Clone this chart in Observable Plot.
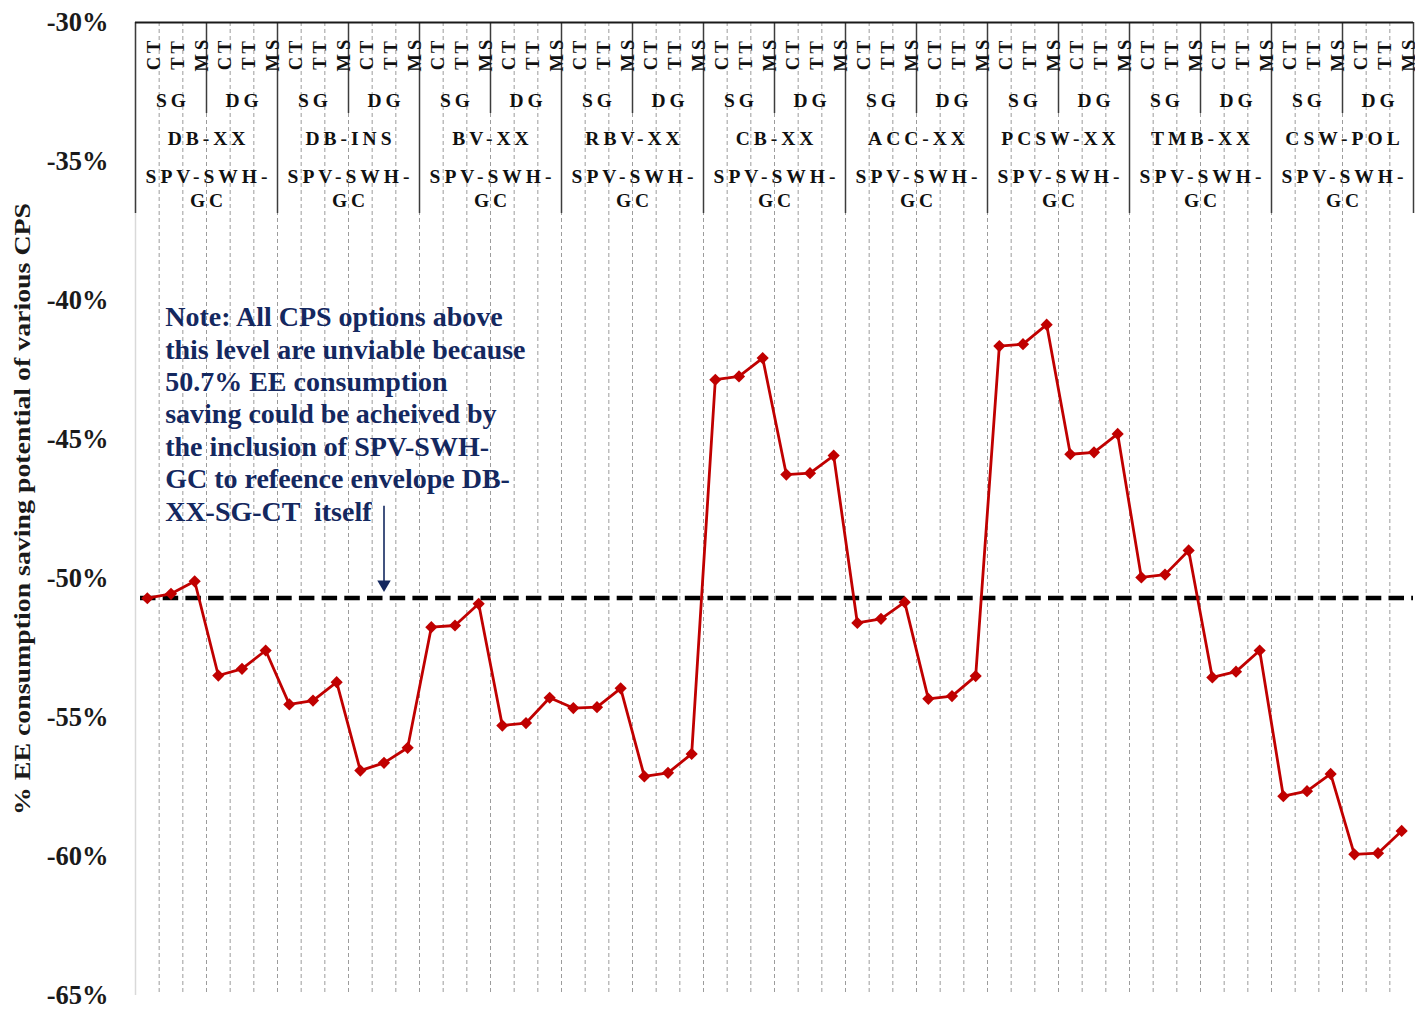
<!DOCTYPE html>
<html>
<head>
<meta charset="utf-8">
<script src="https://cdn.jsdelivr.net/npm/d3@7"></script>
<script src="https://cdn.jsdelivr.net/npm/@observablehq/plot@0.6"></script>
<style>
  html, body { margin: 0; padding: 0; background: #fff; }
  #chart svg { display: block; }
</style>
</head>
<body>
<div id="chart"></div>
<script>
// ---- data ----
const glazingTypes = ["CT", "TT", "MS"];
const windowTypes = ["SG", "DG"];
const envelopes = ["DB-XX", "DB-INS", "BV-XX", "RBV-XX", "CB-XX", "ACC-XX", "PCSW-XX", "TMB-XX", "CSW-POL"];
const systemLabel = "SPV-SWH-GC";
// % EE consumption saving, in order envelope > window > glazing
const savings = [
  -50.71, -50.55, -50.10, -53.49, -53.25, -52.59,   // DB-XX
  -54.53, -54.39, -53.73, -56.91, -56.63, -56.09,   // DB-INS
  -51.75, -51.69, -50.91, -55.29, -55.20, -54.29,   // BV-XX
  -54.66, -54.63, -53.95, -57.12, -56.99, -56.31,   // RBV-XX
  -42.85, -42.73, -42.07, -46.26, -46.21, -45.58,   // CB-XX
  -51.60, -51.45, -50.85, -54.33, -54.23, -53.51,   // ACC-XX
  -41.64, -41.57, -40.87, -45.53, -45.46, -44.80,   // PCSW-XX
  -49.96, -49.86, -48.99, -53.56, -53.35, -52.59,   // TMB-XX
  -57.83, -57.65, -57.03, -59.92, -59.88, -59.08    // CSW-POL
];
const referenceSaving = -50.7;
const yTicks = [-30, -35, -40, -45, -50, -55, -60, -65];
const yTitle = "% EE consumption saving potential of various CPS";
const noteLines = [
  "Note: All CPS options above",
  "this level are unviable because",
  "50.7% EE consumption",
  "saving could be acheived by",
  "the inclusion of SPV-SWH-",
  "GC to refeence envelope DB-",
  "XX-SG-CT  itself"
];
const noteCategory = 10; // category the arrow points at

// ---- derived tables ----
const rows = [];
envelopes.forEach((env, e) => windowTypes.forEach((win, w) => glazingTypes.forEach((glz, g) => {
  const i = e * 6 + w * 3 + g;
  rows.push({i, env, win, glz, saving: savings[i]});
})));
const winRows = envelopes.flatMap((env, e) => windowTypes.map((win, w) => ({pos: e * 6 + w * 3 + 1.5, label: win})));
const envRows = envelopes.map((env, e) => ({pos: e * 6 + 3, label: env}));
const nCat = rows.length;

const serif = "'Liberation Serif', 'Times New Roman', serif";
const navy = "#14285f";
const red = "#C00000";

const triangleDown = {
  draw(ctx, size) {
    const s = Math.sqrt(size * 4 / Math.sqrt(3));
    const h = s * Math.sqrt(3) / 2;
    ctx.moveTo(-s / 2, -h);
    ctx.lineTo(s / 2, -h);
    ctx.lineTo(0, 0);
    ctx.closePath();
  }
};

const chart = Plot.plot({
  width: 1415,
  height: 1012,
  marginLeft: 135,
  marginRight: 2,
  marginTop: 22,
  marginBottom: 17,
  style: {fontFamily: serif, background: "#fff", overflow: "visible"},
  x: {type: "linear", domain: [0, nCat], axis: null},
  y: {domain: [-65, -30], axis: null},
  marks: [
    // category gridlines
    Plot.ruleX(d3.range(1, nCat), {stroke: "#9c9c9c", strokeWidth: 1, strokeDasharray: "4,3"}),
    Plot.ruleX([0], {stroke: "#d9d9d9", strokeWidth: 1.5}),
    // header table borders
    Plot.ruleX(d3.range(3, nCat, 6), {insetBottom: 882, stroke: "#3c3c3c", strokeWidth: 1.5}),
    Plot.ruleX(d3.range(0, nCat + 1, 6), {insetBottom: 782, stroke: "#3c3c3c", strokeWidth: 1.5}),
    Plot.ruleY([-30], {stroke: "#1a1a1a", strokeWidth: 2}),
    // reference line
    Plot.ruleY([referenceSaving], {insetLeft: 5, stroke: "#000", strokeWidth: 4.5, strokeDasharray: "15.5,7.2"}),
    // series
    Plot.line(rows, {x: d => d.i + 0.5, y: "saving", stroke: red, strokeWidth: 2.8}),
    Plot.dot(rows, {x: d => d.i + 0.5, y: "saving", symbol: "diamond2", r: 5.5, fill: red, stroke: "none"}),
    // y axis
    Plot.axisY(yTicks, {tickSize: 0, tickPadding: 27, tickFormat: d => `${d}%`, fontSize: 26.5, fontWeight: "bold", color: "#1a1a1a", label: null}),
    Plot.text([yTitle], {text: d => d, frameAnchor: "left", dx: -113, rotate: -90, fontSize: 24, fontWeight: "bold", fill: "#1a1a1a", ariaDescription: "ytitle"}),
    // header labels
    Plot.text(rows, {x: d => d.i + 0.5, text: "glz", frameAnchor: "top", dy: 31, rotate: -90, fontSize: 18.5, fontWeight: "bold", fill: "#111", ariaDescription: "hdr-glz"}),
    Plot.text(winRows, {x: "pos", text: "label", frameAnchor: "top", dy: 71, dx: 2, fontSize: 19.5, fontWeight: "bold", fill: "#111", ariaDescription: "hdr"}),
    Plot.text(envRows, {x: "pos", text: "label", frameAnchor: "top", dy: 109, dx: 2, fontSize: 19.5, fontWeight: "bold", fill: "#111", ariaDescription: "hdr"}),
    Plot.text(envRows, {x: "pos", text: () => systemLabel.replace("SWH-", "SWH-\n"), frameAnchor: "top", dy: 143, dx: 2, lineHeight: 1.23, fontSize: 19.5, fontWeight: "bold", fill: "#111", ariaDescription: "hdr"}),
    // annotation
    Plot.text([noteLines.join("\n")], {x: () => 1, y: () => -40, text: d => d, dx: 6, dy: 3, textAnchor: "start", lineAnchor: "top", lineHeight: 1.155, fontSize: 28, fontWeight: "bold", fill: navy}),
    Plot.ruleX([noteCategory + 0.5], {y1: referenceSaving + 3.3, y2: referenceSaving + 0.5, stroke: navy, strokeWidth: 1.6}),
    Plot.dot([noteCategory + 0.5], {x: d => d, y: () => referenceSaving + 0.21, symbol: triangleDown, r: 5, fill: navy, stroke: "none"})
  ]
});

d3.select(chart).selectAll('g[aria-description="hdr-glz"] text').attr("letter-spacing", "4px");
d3.select(chart).selectAll('g[aria-description="hdr"] text').attr("letter-spacing", "4px");
d3.select(chart).selectAll('g[aria-description="ytitle"] text')
  .attr("text-anchor", "start")
  .attr("x", -306)
  .attr("textLength", 612)
  .attr("lengthAdjust", "spacingAndGlyphs");

document.getElementById("chart").appendChild(chart);
</script>
</body>
</html>
